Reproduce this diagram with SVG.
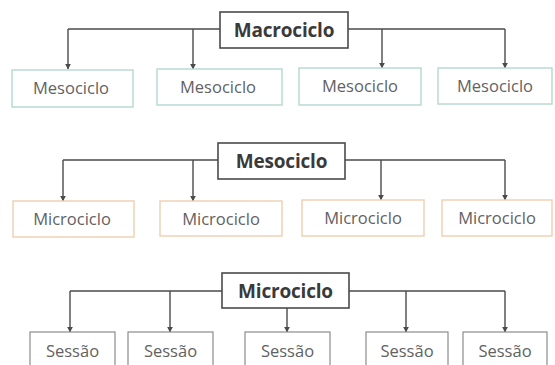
<svg xmlns="http://www.w3.org/2000/svg" width="555" height="365" viewBox="0 0 555 365">
<defs>
<marker id="ah" viewBox="0 0 10 10" refX="9" refY="5" markerWidth="6" markerHeight="6" markerUnits="userSpaceOnUse" orient="auto">
<path d="M0,0 L10,5 L0,10 z" fill="#4a4a4a"/>
</marker>
<style>
.parent rect{fill:#fff;stroke:#4a4a4a;stroke-width:1.6}
.parent text{font-family:"Open Sans","Liberation Sans",sans-serif;font-weight:bold;font-size:19px;fill:#3a3a3a;text-anchor:middle;letter-spacing:-0.2px}
.child text{font-family:"Open Sans","Liberation Sans",sans-serif;font-size:16.5px;fill:#626262;text-anchor:middle}
.meso rect{fill:#fff;stroke:#b4d8d2;stroke-width:1.4}
.micro rect{fill:#fff;stroke:#efcfb0;stroke-width:1.4}
.sess rect{fill:#fff;stroke:#8c8c8c;stroke-width:1.2}
.conn path{fill:none;stroke:#4a4a4a;stroke-width:1.4}
.conn .arr{marker-end:url(#ah)}
</style>
</defs>
<rect width="555" height="365" fill="#fff"/>
<g id="connectors" class="conn">
<path d="M220,29 H68"/>
<path d="M348,29 H505"/>
<path class="arr" d="M68,29 V69"/>
<path class="arr" d="M193,29 V69"/>
<path class="arr" d="M382,29 V68"/>
<path class="arr" d="M505,29 V68"/>
<path d="M218,160 H63"/>
<path d="M345,160 H505"/>
<path class="arr" d="M63,160 V201"/>
<path class="arr" d="M193,160 V201"/>
<path class="arr" d="M381,160 V200"/>
<path class="arr" d="M505,160 V200"/>
<path d="M222,291 H70"/>
<path d="M349,291 H505"/>
<path class="arr" d="M70,291 V332"/>
<path class="arr" d="M170,291 V332"/>
<path class="arr" d="M287,308 V332"/>
<path class="arr" d="M406,291 V332"/>
<path class="arr" d="M505,291 V332"/>
</g>
<g id="macrociclo" class="parent"><rect x="220" y="12" width="128" height="36"/><text x="284" y="37">Macrociclo</text></g>
<g id="meso1" class="child meso"><rect x="12" y="70" width="121" height="37"/><text x="71" y="94">Mesociclo</text></g>
<g id="meso2" class="child meso"><rect x="157" y="69" width="125" height="36"/><text x="218" y="93">Mesociclo</text></g>
<g id="meso3" class="child meso"><rect x="299" y="68" width="122" height="37"/><text x="360" y="92">Mesociclo</text></g>
<g id="meso4" class="child meso"><rect x="438" y="68" width="114" height="36"/><text x="495" y="92">Mesociclo</text></g>
<g id="mesociclo" class="parent"><rect x="218" y="143" width="127" height="36"/><text x="281.5" y="168">Mesociclo</text></g>
<g id="micro1" class="child micro"><rect x="13" y="201" width="121" height="36"/><text x="72" y="225">Microciclo</text></g>
<g id="micro2" class="child micro"><rect x="160" y="201" width="122" height="35"/><text x="221" y="224.5">Microciclo</text></g>
<g id="micro3" class="child micro"><rect x="302" y="200" width="122" height="36"/><text x="363" y="224">Microciclo</text></g>
<g id="micro4" class="child micro"><rect x="442" y="200" width="110" height="36"/><text x="497" y="224">Microciclo</text></g>
<g id="microciclo" class="parent"><rect x="222" y="273" width="127" height="35"/><text x="285.5" y="297.5">Microciclo</text></g>
<g id="sessao1" class="child sess"><rect x="30" y="332" width="85" height="40"/><text x="72.5" y="357">Sessão</text></g>
<g id="sessao2" class="child sess"><rect x="128" y="332" width="85" height="40"/><text x="170.5" y="357">Sessão</text></g>
<g id="sessao3" class="child sess"><rect x="245" y="332" width="85" height="40"/><text x="287.5" y="357">Sessão</text></g>
<g id="sessao4" class="child sess"><rect x="366" y="332" width="82" height="40"/><text x="407" y="357">Sessão</text></g>
<g id="sessao5" class="child sess"><rect x="463" y="332" width="84" height="40"/><text x="505" y="357">Sessão</text></g>
</svg>
